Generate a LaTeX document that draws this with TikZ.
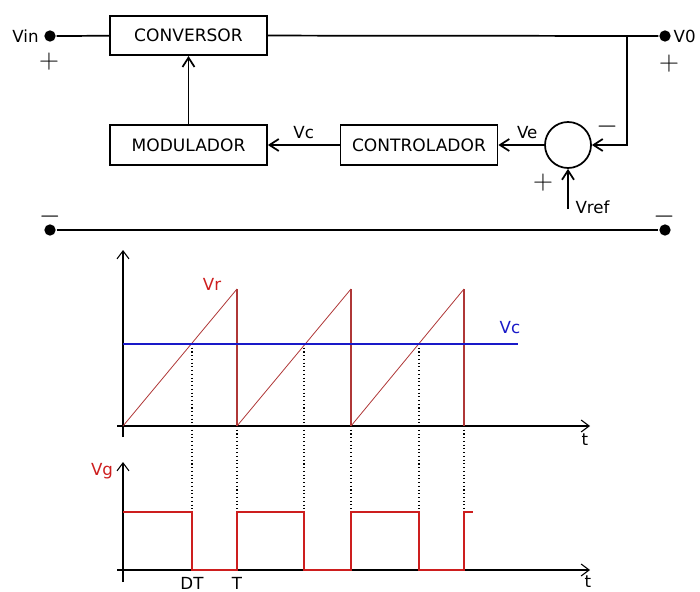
\documentclass[tikz,border=0pt]{standalone}
\usepackage{fontspec}
\setmainfont{DejaVu Sans}
\usetikzlibrary{arrows.meta,positioning}

\definecolor{rampred}{RGB}{175,55,55}
\definecolor{gatered}{RGB}{205,30,30}
\definecolor{ctrlblue}{RGB}{25,25,200}

\tikzset{every picture/.style={line width=1.3pt}}
\tikzset{
  block/.style={draw, minimum width=117.75pt, minimum height=29.5pt, inner sep=0pt, font=\fontsize{12.8}{13}\selectfont},
  terminal/.style={circle, fill, inner sep=0pt, minimum size=8.5pt},
  summer/.style={circle, draw, inner sep=0pt, minimum size=34.5pt},
  sgn/.style={inner sep=0pt, font=\fontsize{21}{21}\selectfont},
  lbl/.style={inner sep=1pt, font=\fontsize{12.5}{13}\selectfont},
  sig/.style={-{Straight Barb[length=7pt,width=9pt]}},
  axis/.style={line width=0.8pt, -{Straight Barb[length=6pt,width=9pt]}},
  guide/.style={line width=0.8pt, dotted},
}

\begin{document}
\begin{tikzpicture}[x=0.75pt,y=0.75pt,yscale=-1,xscale=1]
\useasboundingbox (0,0) rectangle (700,592);

% Terminals
\node[terminal] (vin) at (50,36) {};
\node[terminal] (vo) at (665,36) {};
\node[terminal] (gndl) at (50,230) {};
\node[terminal] (gndr) at (665,230) {};
% Blocks
\node[block] (conv) at (188.5,35.5) {CONVERSOR};
\node[block] (modu) at (188.5,145) {MODULADOR};
\node[block] (ctrl) at (419,145) {CONTROLADOR};
\node[summer] (sum) at (568,145) {};
\coordinate (tap) at (627,36);
\coordinate (ref) at (568,209);

% Text Node
\node[lbl, left=2pt of vin] (vinlbl) {Vin};
\node[lbl, right=0pt of vo] (volbl) {V0};
\node[lbl, right=4pt of ref, yshift=1pt] (vreflbl) {Vref};
\node[sgn] (pin) at (49,62) {$+$};
\node[sgn] (pout) at (669,64) {$+$};
\node[sgn] (min) at (50,217) {$-$};
\node[sgn] (mout) at (664,217) {$-$};
\node[sgn] (sminus) at (607,127) {$-$};
\node[sgn] (splus) at (543,183) {$+$};

% Connection
\draw (vin) -- (conv);
\draw (conv) -- (vo);
\draw (gndl) -- (gndr);
\draw[sig] (modu) -- (conv);
\draw[sig] (ctrl) -- (modu) node[lbl, midway, above=3pt] {Vc};
\draw[sig] (sum) -- (ctrl) node[lbl, pos=0.37, above=3pt] {Ve};
\draw[sig] (tap) |- (sum);
\draw[sig] (ref) -- (sum);

% Ramp and control voltage
\draw[axis] (123,437) -- (123,250);
\draw[axis] (117,426) -- (590,426);
\foreach \s/\d/\e in {123/192/237, 237/304/351, 351/419/464}{
  \draw[rampred, line width=0.6pt] (\s,426) -- (\e,289);
  \draw[rampred, line width=1pt] (\e,289) -- (\e,426);
  \draw[guide] (\d,344) -- (\d,512);
  \draw[guide] (\e,426) -- (\e,512);
}
\draw[ctrlblue, line width=2.2pt] (123,344) -- (518,344);
\node[lbl, text=gatered] (vrlbl) at (212,284) {Vr};
\node[lbl, text=ctrlblue] (vclbl) at (510,328) {Vc};
\node[lbl] (tlbl) at (585,440) {t};

% Gate signal
\draw[axis] (123,582) -- (123,462);
\draw[axis] (117,570) -- (590,570);
\draw[gatered, line width=2pt] (123,512) -| (192,570) -| (237,512) -| (304,570) -| (351,512) -| (419,570) -| (464,512) -- (473,512);
\node[lbl, text=gatered] (vglbl) at (102,471) {Vg};
\node[lbl] (tlbl2) at (588,582) {t};
\node[lbl] (dtlbl) at (192,583) {DT};
\node[lbl] (tplbl) at (237,583) {T};

\end{tikzpicture}
\end{document}
